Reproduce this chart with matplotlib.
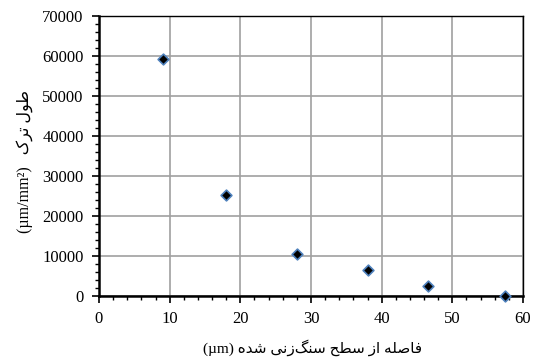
import numpy as np
import matplotlib.pyplot as plt
from matplotlib.ticker import MultipleLocator

# distance from ground surface (um) and crack length (um/mm2)
dist = [9.0, 18.0, 28.0, 38.0, 46.5, 57.5]
crack = [59200, 25200, 10500, 6400, 2400, 0]

# Persian labels, written in visual order with presentation forms
# (matplotlib does no Arabic shaping)
xlabel = ("(\u00b5m) "
          "\uFEE9\uFEAA\uFEB7 "
          "\uFBFD\uFEE7\uFEAF\uFB93\uFEE8\uFEB3 "
          "\uFEA2\uFEC4\uFEB3 "
          "\uFEAF\uFE8D "
          "\uFEEA\uFEE0\uFEBB\uFE8E\uFED3")
ylabel = ("(\u00b5m/mm\u00b2)   "
          "\uFB8E\uFEAE\uFE97 "
          "\uFEDD\uFEEE\uFEC3")

fonts = ['Liberation Serif', 'DejaVu Sans']
plt.rcParams['font.family'] = fonts

fig = plt.figure(figsize=(5.36, 3.6), dpi=100)
ax = fig.add_axes([0.1847, 0.1778, 0.7910, 0.7778])

ax.scatter(dist, crack, marker='D', s=30, color='black',
           edgecolors='#4f81bd', linewidths=1.2, zorder=3, clip_on=False)

ax.set_xlim(0, 60)
ax.set_ylim(0, 70000)
ax.xaxis.set_major_locator(MultipleLocator(10))
ax.xaxis.set_minor_locator(MultipleLocator(2))
ax.yaxis.set_major_locator(MultipleLocator(10000))
ax.yaxis.set_minor_locator(MultipleLocator(2000))
ax.tick_params(which='major', direction='out', length=5, width=1.2,
               labelsize=12, colors='black', pad=6)
ax.tick_params(which='minor', direction='out', length=3, width=1)

ax.grid(True, which='major', color='#a0a0a0', lw=1.2)
ax.set_axisbelow(True)
for side in ['left', 'bottom']:
    ax.spines[side].set_linewidth(1.8)
for side in ['top', 'right']:
    ax.spines[side].set_linewidth(1.0)

fig.text(0.583, 0.033, xlabel, ha='center', va='center', fontsize=11,
         family=fonts)
fig.text(0.045, 0.55, ylabel, ha='center', va='center', fontsize=11.5,
         rotation=90, family=fonts)

plt.savefig('out.png', dpi=100)
